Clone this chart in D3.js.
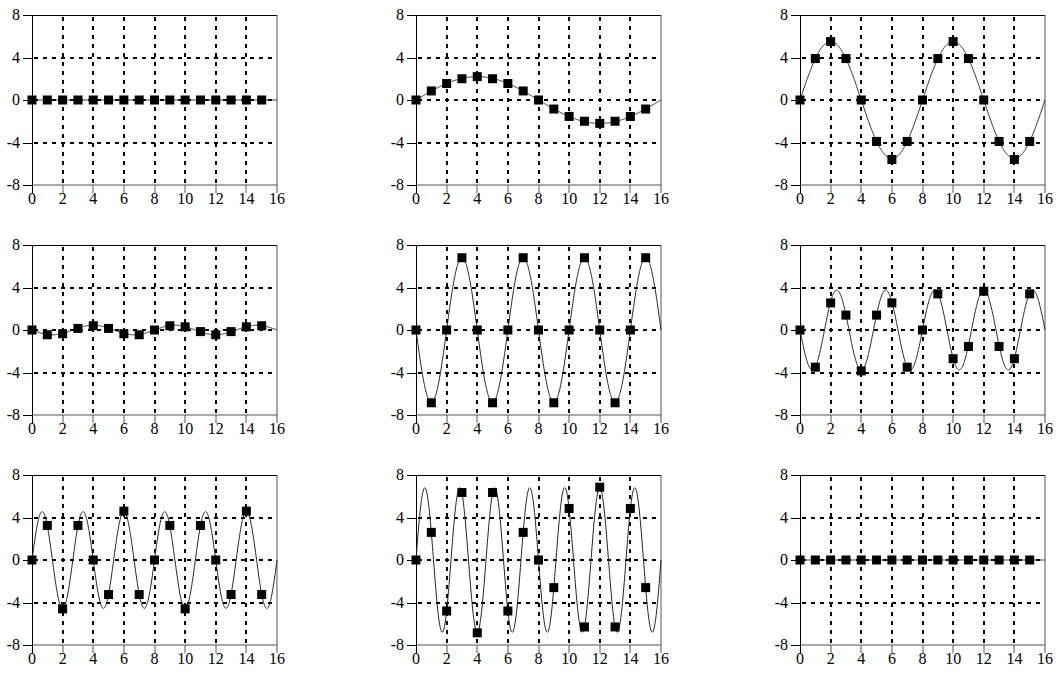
<!DOCTYPE html>
<html>
<head>
<meta charset="utf-8">
<script src="https://cdn.jsdelivr.net/npm/d3@7"></script>
<style>
  html, body { margin: 0; padding: 0; background: #fff; }
  svg { display: block; }
  text { font-family: "Liberation Serif", "Times New Roman", serif; font-size: 16px; fill: #000; }
</style>
</head>
<body>
<svg id="chart" width="1062" height="677"></svg>
<script>
// ---- data ----
const sampleIndex = [0,1,2,3,4,5,6,7,8,9,10,11,12,13,14,15];
const xTicks = [0,2,4,6,8,10,12,14,16];
const yTicks = [-8,-4,0,4,8];
const xGrid = [2,4,6,8,10,12,14];
const yGrid = [-4,0,4];

const samples1 = [0,0,0,0,0,0,0,0,0,0,0,0,0,0,0,0];
const samples2 = [0,0.85,1.55,2.0,2.2,2.0,1.55,0.85,0,-0.85,-1.55,-2.0,-2.2,-2.0,-1.55,-0.85];
const samples3 = [0,3.9,5.5,3.9,0,-3.9,-5.6,-3.9,0,3.9,5.5,3.9,0,-3.9,-5.6,-3.9];
const samples4 = [0,-0.45,-0.35,0.15,0.4,0.15,-0.35,-0.45,0,0.4,0.3,-0.15,-0.45,-0.15,0.3,0.4];
const samples5 = [0,-6.85,0,6.8,0,-6.85,0,6.8,0,-6.85,0,6.8,0,-6.85,0,6.8];
const samples6 = [0,-3.5,2.55,1.4,-3.85,1.4,2.55,-3.5,0,3.4,-2.7,-1.55,3.65,-1.55,-2.7,3.4];
const samples7 = [0,3.25,-4.6,3.25,0,-3.25,4.6,-3.25,0,3.25,-4.6,3.25,0,-3.25,4.6,-3.25];
const samples8 = [0,2.6,-4.8,6.35,-6.85,6.35,-4.8,2.6,0,-2.6,4.85,-6.3,6.85,-6.3,4.85,-2.6];
const samples9 = [0,0,0,0,0,0,0,0,0,0,0,0,0,0,0,0];
const panelSamples = [samples1,samples2,samples3,samples4,samples5,samples6,samples7,samples8,samples9];

// continuous sinusoid drawn behind the samples: amplitude and cycles per 16 units (sign = starting direction)
const curveAmplitude = [0, 2.2, 5.5, 0.45, 6.8, 3.75, 4.55, 6.8, 0];
const curveCycles    = [0, 1, 2, -3, -4, -5, 6, 7, 8];

// ---- layout ----
const colLeft = [32, 416, 800];
const rowTop = [15, 245, 475];
const plotW = 245, plotH = 170;

const svg = d3.select("#chart");

panelSamples.forEach((vals, i) => {
  const col = i % 3, row = Math.floor(i / 3);
  const L = colLeft[col], T = rowTop[row];
  const x = d3.scaleLinear().domain([0,16]).range([L, L + plotW]);
  const y = d3.scaleLinear().domain([-8,8]).range([T + plotH, T]);
  const g = svg.append("g");

  // grid
  g.selectAll(".vg").data(xGrid).join("line")
    .attr("x1", d => Math.round(x(d))).attr("x2", d => Math.round(x(d)))
    .attr("y1", T + 2).attr("y2", T + plotH)
    .attr("stroke", "#000").attr("stroke-width", 2).attr("stroke-dasharray", "4,5");
  g.selectAll(".hg").data(yGrid).join("line")
    .attr("y1", d => Math.round(y(d))).attr("y2", d => Math.round(y(d)))
    .attr("x1", L + 2).attr("x2", L + plotW)
    .attr("stroke", "#000").attr("stroke-width", 2).attr("stroke-dasharray", "4,5");

  // frame
  g.append("line").attr("x1", L + 0.5).attr("x2", L + 0.5).attr("y1", T).attr("y2", T + plotH + 8)
    .attr("stroke", "#000").attr("stroke-width", 1);
  g.append("line").attr("x1", L).attr("x2", L + plotW).attr("y1", T + 0.5).attr("y2", T + 0.5)
    .attr("stroke", "#000").attr("stroke-width", 1);
  g.append("line").attr("x1", L + plotW).attr("x2", L + plotW).attr("y1", T).attr("y2", T + plotH + 8)
    .attr("stroke", "#555").attr("stroke-width", 1);
  g.append("line").attr("x1", L).attr("x2", L + plotW).attr("y1", T + plotH).attr("y2", T + plotH)
    .attr("stroke", "#555").attr("stroke-width", 1);

  // x ticks + labels
  g.selectAll(".xt").data(xTicks.slice(1, -1)).join("line")
    .attr("x1", d => Math.round(x(d))).attr("x2", d => Math.round(x(d)))
    .attr("y1", T + plotH).attr("y2", T + plotH + 8)
    .attr("stroke", "#555").attr("stroke-width", 1);
  g.selectAll(".xl").data(xTicks).join("text")
    .attr("x", d => x(d)).attr("y", T + plotH + 19)
    .attr("text-anchor", "middle").text(d => d);

  // y ticks + labels
  g.selectAll(".yt").data(yTicks).join("line")
    .attr("x1", L - 9).attr("x2", L)
    .attr("y1", d => Math.round(y(d)) + 0.5).attr("y2", d => Math.round(y(d)) + 0.5)
    .attr("stroke", "#000").attr("stroke-width", 1);
  g.selectAll(".yl").data(yTicks).join("text")
    .attr("x", L - 12).attr("y", d => y(d)).attr("dy", "0.33em")
    .attr("text-anchor", "end").text(d => d === 0 ? "0" : (d < 0 ? "-" + Math.abs(d) : d));

  // continuous curve
  const A = curveAmplitude[i], c = curveCycles[i];
  const pts = d3.range(0, 16.0001, 0.02).map(t => [t, A * Math.sin(2 * Math.PI * c * t / 16)]);
  g.append("path").datum(pts)
    .attr("fill", "none").attr("stroke", "#222").attr("stroke-width", 1)
    .attr("d", d3.line().x(d => x(d[0])).y(d => y(d[1])));

  // samples
  const s = 9;
  g.selectAll(".m").data(sampleIndex).join("rect")
    .attr("x", n => x(n) - s / 2).attr("y", n => y(vals[n]) - s / 2)
    .attr("width", s).attr("height", s).attr("fill", "#000");
});
</script>
</body>
</html>
